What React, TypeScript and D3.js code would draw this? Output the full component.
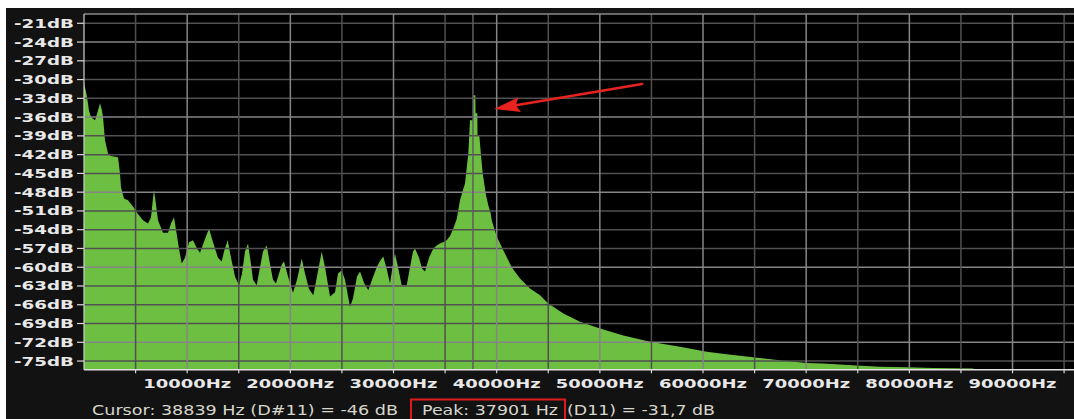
import React from 'react';
import * as d3 from 'd3';

// spectrum (frequency in Hz, level in dB)
const freqHz = [
  0, 291, 485, 679, 1066, 1260, 1551, 1745, 1842, 2036, 2326, 2617, 3296, 3489, 3586, 3877,
  4265, 4750, 5234, 5719, 6204, 6494, 6688, 6785, 6979, 7173, 7657, 8142, 8433, 8724, 8918,
  9208, 9470, 9790, 10178, 10565, 10953, 11244, 11729, 12116, 12504, 12989, 13347, 13570,
  13929, 14249, 14636, 15024, 15315, 15606, 15896, 16187, 16381, 16740, 17060, 17350, 17710,
  18030, 18320, 18611, 18902, 19192, 19386, 19774, 20259, 20646, 21102, 21422, 21810, 22226,
  22585, 23040, 23362, 23846, 24331, 24620, 24979, 25299, 25783, 26074, 26462, 26753, 27140,
  27557, 27916, 28372, 28692, 29012, 29370, 29661, 29951, 30145, 30436, 30795, 31280, 31600,
  31890, 32084, 32472, 32763, 33054, 33442, 33858, 34216, 34507, 34797, 35157, 35476, 35796,
  36126, 36446, 36689, 36930, 37250, 37415, 37706, 37735, 37929, 37948, 38123, 38142, 38317,
  38481, 38646, 38966, 39189, 39422, 39519, 40003, 40643, 41457, 42262, 43231, 44200, 45005,
  46459, 48077, 50016, 52274, 54862, 57770, 60358, 62297, 64846, 67628, 70051, 71631, 74897,
  77155, 79743, 82293, 86170, 86400,
];
const levelDb = [
  -30.5, -32.7, -35, -36, -36.5, -35.5, -33.8, -35, -36, -39.7, -41.8, -42.2, -42.4, -45, -47.2, -49,
  -49.3, -50.3, -51.5, -52.5, -53, -52, -49, -47.6, -50, -52.5, -54.5, -54.5, -53, -52, -54,
  -57, -59.4, -58.5, -56, -55.7, -57, -57.7, -55.5, -53.8, -56, -58.5, -59.1, -57.5,
  -55.7, -58.5, -61.5, -62.9, -61, -57.5, -56.2, -59.5, -62, -62.9, -60, -57.5, -56.5,
  -59.5, -62, -62.6, -61, -59.5, -59.1, -61.5, -64.1, -62, -58.6, -61, -63.5, -64.5,
  -61.5, -57.5, -60, -64.7, -64, -61, -60.5, -62, -66.3, -65, -61.5, -60.7, -62.5,
  -63.7, -62, -60, -59, -58.3, -60.5, -62.6, -59.5, -57.8, -60, -62.9, -62.9, -60,
  -57.5, -57, -58.5, -60.2, -60.7, -58.5, -57, -56.5, -56.2, -56, -55.7, -55, -53.8,
  -52.3, -49.3, -47.9, -46.6, -41.8, -36.5, -36.5, -32.5, -32.5, -35.4, -35.4, -38.9, -38.9,
  -42.1, -45, -48.5, -50.1, -51.4, -52.5, -55.1, -57.3, -60, -61.8, -63.4, -64.5, -65.8,
  -67.4, -68.7, -69.8, -70.9, -71.9, -72.7, -73.5, -73.9, -74.4, -74.9, -75.3, -75.4, -75.7,
  -75.9, -76.0, -76.1, -76.2, -76.4,
];

const dbTicks = [-21, -24, -27, -30, -33, -36, -39, -42, -45, -48, -51, -54, -57, -60, -63, -66, -69, -72, -75];
const hzLabels = [10000, 20000, 30000, 40000, 50000, 60000, 70000, 80000, 90000];
const hzGrid = [5000, 10000, 15000, 20000, 25000, 30000, 35000, 40000, 45000, 50000,
  55000, 60000, 65000, 70000, 75000, 80000, 85000, 90000, 95000];
const markerHz = 37700;

const cursorText = 'Cursor: 38839 Hz (D#11) = -46 dB';
const peakText = 'Peak: 37901 Hz';
const peakLevelText = '(D11) = -31,7 dB';

// arrow annotation, in data units
const arrowFrom = { hz: 54100, db: -30.7 };
const arrowTo = { hz: 39750, db: -34.7 };

const W = 1074;
const H = 419;
const plotLeft = 84;
const plotTop = 14;
const plotBottom = 369.8;

export default function App() {
  const x = d3.scaleLinear().domain([0, 96000]).range([plotLeft, plotLeft + 96000 * 0.010317]);
  const y = d3.scaleLinear().domain([-76.4, -19.5]).range([plotBottom, 13.9]);

  const data = freqHz.map((f, i) => ({ f, db: levelDb[i] }));
  const area = d3.area<{ f: number; db: number }>()
    .x(d => x(d.f))
    .y0(plotBottom)
    .y1(d => y(d.db))
    .curve(d3.curveLinear);

  // arrow head
  const x1 = x(arrowFrom.hz), y1 = y(arrowFrom.db);
  const x2 = x(arrowTo.hz), y2 = y(arrowTo.db);
  const len = Math.hypot(x1 - x2, y1 - y2);
  const ux = (x1 - x2) / len, uy = (y1 - y2) / len;
  const headLen = 26, headW = 7.5;
  const bx = x2 + ux * headLen, by = y2 + uy * headLen;
  const nx = x2 + ux * (headLen - 4), ny = y2 + uy * (headLen - 4);
  const head = `M${x2},${y2} L${bx - uy * headW},${by + ux * headW} L${nx},${ny} L${bx + uy * headW},${by - ux * headW} Z`;

  const labelFont = '"DejaVu Sans", Verdana, sans-serif';

  return (
    <svg width={W} height={H} style={{ position: 'absolute', left: 0, top: 0, display: 'block' }}>
      <rect x={0} y={0} width={W} height={H} fill="#ffffff" />
      <rect x={6} y={8} width={W - 6} height={H - 8} fill="#121212" />
      <rect x={plotLeft} y={plotTop} width={W - plotLeft} height={plotBottom - plotTop} fill="#000000" />

      <path d={area(data) || ''} fill="#6dbf42" />

      {dbTicks.map(v => (
        <line key={'h' + v} x1={plotLeft} x2={W} y1={y(v)} y2={y(v)}
          stroke={v % 12 === 0 ? '#858585' : '#505050'} strokeWidth={1.5} />
      ))}
      {hzGrid.map(v => (
        <line key={'v' + v} x1={x(v)} x2={x(v)} y1={plotTop} y2={plotBottom}
          stroke={v % 10000 === 0 ? '#858585' : '#505050'} strokeWidth={1.5} />
      ))}
      <line x1={x(markerHz)} x2={x(markerHz)} y1={plotTop} y2={plotBottom} stroke="#5e5e5e" strokeWidth={1.5} />

      <line x1={plotLeft} x2={W} y1={plotTop} y2={plotTop} stroke="#8a8a8a" strokeWidth={1.5} />
      <line x1={plotLeft} x2={plotLeft} y1={plotTop} y2={plotBottom} stroke="#d0d0d0" strokeWidth={1.2} />
      <line x1={plotLeft} x2={W} y1={plotBottom} y2={plotBottom} stroke="#e0e0e0" strokeWidth={1.4} />

      {dbTicks.map(v => (
        <g key={'yl' + v}>
          <line x1={77} x2={plotLeft} y1={y(v)} y2={y(v)} stroke="#d8d8d8" strokeWidth={1.2} />
          <text x={14} y={y(v) + 4.5} textLength={60} lengthAdjust="spacingAndGlyphs"
            fontFamily={labelFont} fontWeight="bold" fontSize={12} fill="#e8e8e8">{`${v}dB`}</text>
        </g>
      ))}

      {hzGrid.map(v => (
        <line key={'xt' + v} x1={x(v)} x2={x(v)} y1={plotBottom} y2={plotBottom + 3.5} stroke="#d8d8d8" strokeWidth={1.2} />
      ))}
      {hzLabels.map(v => (
        <text key={'xl' + v} x={x(v) - 44} y={388} textLength={88} lengthAdjust="spacingAndGlyphs"
          fontFamily={labelFont} fontWeight="bold" fontSize={13} fill="#e8e8e8">{`${v}Hz`}</text>
      ))}

      <line x1={x1} y1={y1} x2={nx} y2={ny} stroke="#e8231f" strokeWidth={2.6} strokeLinecap="round" />
      <path d={head} fill="#e8231f" />

      <text x={92} y={415} textLength={306} lengthAdjust="spacingAndGlyphs"
        fontFamily={labelFont} fontSize={13.5} fill="#d6d6cc">{cursorText}</text>
      <rect x={411} y={399.5} width={154} height={30} fill="none" stroke="#e01b1b" strokeWidth={2} />
      <text x={422} y={415} textLength={136} lengthAdjust="spacingAndGlyphs"
        fontFamily={labelFont} fontSize={13.5} fill="#d6d6cc">{peakText}</text>
      <text x={567} y={415} textLength={148} lengthAdjust="spacingAndGlyphs"
        fontFamily={labelFont} fontSize={13.5} fill="#d6d6cc">{peakLevelText}</text>
    </svg>
  );
}
